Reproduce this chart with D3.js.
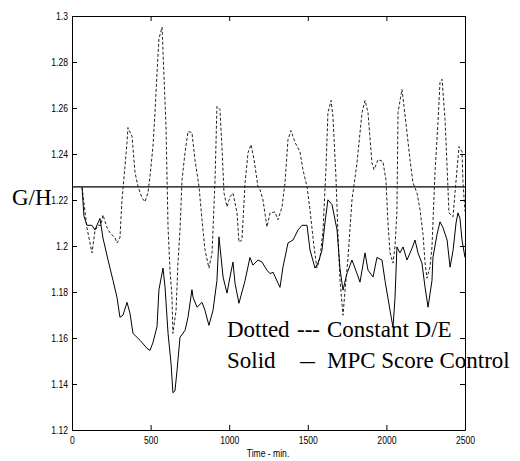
<!DOCTYPE html>
<html>
<head>
<meta charset="utf-8">
<script src="https://cdn.jsdelivr.net/npm/d3@7"></script>
<style>
  html, body { margin: 0; padding: 0; background: #fff; }
  .axis path, .axis line { stroke: #000; }
  .axis text { font-family: "Liberation Sans", Arial, sans-serif; font-size: 11px; fill: #000; }
</style>
</head>
<body>
<div id="chart"></div>
<script>
// 1. DATA
const dottedTime = [64, 95, 127, 146, 165, 184, 197, 223, 242, 274, 286, 305, 318, 331, 350, 356, 382, 401, 420, 445,
  464, 483, 496, 515, 528, 541, 553, 573, 579, 598, 611, 623, 636, 642, 662, 674, 687, 700, 719, 738,
  763, 782, 808, 827, 846, 871, 891, 910, 922, 941, 954, 967, 986, 1005, 1024, 1050, 1062, 1081, 1101, 1120,
  1139, 1158, 1183, 1196, 1215, 1240, 1260, 1291, 1310, 1336, 1355, 1374, 1393, 1419, 1450, 1469, 1495, 1514, 1539, 1558,
  1578, 1597, 1616, 1628, 1648, 1660, 1679, 1692, 1705, 1724, 1737, 1756, 1781, 1813, 1845, 1864, 1883, 1908, 1921, 1947,
  1978, 1997, 2010, 2023, 2042, 2055, 2067, 2074, 2099, 2112, 2131, 2150, 2169, 2195, 2214, 2233, 2246, 2258, 2277, 2290,
  2309, 2328, 2341, 2354, 2373, 2386, 2398, 2424, 2430, 2449, 2462, 2481, 2487, 2500];
const dottedValue = [1.2255, 1.208, 1.197, 1.2065, 1.209, 1.209, 1.2135, 1.208, 1.2057, 1.2035, 1.2013, 1.2035, 1.22, 1.23, 1.245, 1.2515, 1.2476, 1.2319, 1.2258, 1.221,
  1.2192, 1.2231, 1.2301, 1.2432, 1.258, 1.2755, 1.29, 1.2952, 1.2843, 1.252, 1.208, 1.19, 1.1777, 1.162, 1.172, 1.1926, 1.207, 1.2288, 1.2406, 1.2498,
  1.2493, 1.2376, 1.2258, 1.2114, 1.1983, 1.1904, 1.197, 1.2288, 1.2607, 1.2594, 1.2432, 1.223, 1.217, 1.2214, 1.223, 1.2144, 1.2017, 1.2026, 1.2275, 1.2406,
  1.2441, 1.2376, 1.2258, 1.2245, 1.22, 1.2083, 1.2144, 1.2148, 1.2114, 1.217, 1.2275, 1.2463, 1.2502, 1.245, 1.241, 1.2332, 1.2258, 1.2157, 1.2, 1.1904,
  1.195, 1.207, 1.2345, 1.258, 1.2633, 1.2563, 1.2301, 1.205, 1.185, 1.1699, 1.1808, 1.195, 1.22, 1.2362, 1.258, 1.2633, 1.258, 1.2362, 1.2332, 1.2376,
  1.2367, 1.2288, 1.21, 1.197, 1.1926, 1.2, 1.215, 1.258, 1.2681, 1.2607, 1.2493, 1.2376, 1.2275, 1.223, 1.2157, 1.205, 1.1926, 1.186, 1.1908, 1.1996,
  1.2319, 1.2537, 1.2712, 1.2725, 1.255, 1.2345, 1.2144, 1.2127, 1.2179, 1.2332, 1.2432, 1.241, 1.228, 1.215];

const solidTime = [64, 76, 95, 127, 146, 165, 178, 197, 229, 261, 286, 305, 324, 350, 369, 388, 433, 477, 496, 515,
  541, 553, 579, 592, 611, 630, 642, 655, 668, 687, 719, 738, 763, 770, 795, 827, 846, 871, 897, 922,
  935, 961, 986, 1005, 1024, 1037, 1062, 1101, 1132, 1151, 1183, 1209, 1240, 1260, 1279, 1323, 1342, 1374, 1406, 1438,
  1463, 1495, 1514, 1546, 1565, 1590, 1609, 1628, 1654, 1686, 1705, 1724, 1749, 1781, 1813, 1832, 1864, 1883, 1915, 1940,
  1972, 1991, 2023, 2042, 2055, 2067, 2086, 2106, 2131, 2163, 2182, 2201, 2226, 2246, 2265, 2290, 2296, 2322, 2341, 2360,
  2386, 2405, 2424, 2443, 2455, 2468, 2481, 2500];
const solidValue = [1.2255, 1.213, 1.209, 1.209, 1.207, 1.21, 1.212, 1.2035, 1.194, 1.185, 1.1777, 1.169, 1.1699, 1.1755, 1.1707, 1.162, 1.159, 1.1555, 1.1546, 1.158,
  1.165, 1.181, 1.1904, 1.182, 1.162, 1.149, 1.1362, 1.137, 1.1458, 1.1603, 1.1633, 1.169, 1.181, 1.1777, 1.1734, 1.1755, 1.172, 1.1655, 1.172, 1.185,
  1.204, 1.1865, 1.1795, 1.1865, 1.193, 1.1838, 1.1751, 1.185, 1.195, 1.1917, 1.1939, 1.193, 1.1895, 1.188, 1.1886, 1.182, 1.1908, 1.2013, 1.2026, 1.207,
  1.209, 1.209, 1.1983, 1.1904, 1.1926, 1.198, 1.21, 1.2201, 1.218, 1.207, 1.19, 1.1808, 1.188, 1.1939, 1.188, 1.1843, 1.197, 1.1895, 1.1865, 1.195,
  1.1939, 1.185, 1.172, 1.1646, 1.1777, 1.1996, 1.197, 1.1996, 1.1939, 1.199, 1.2026, 1.197, 1.1926, 1.182, 1.1734, 1.185, 1.195, 1.205, 1.2105, 1.208,
  1.2026, 1.1908, 1.198, 1.21, 1.2144, 1.212, 1.2026, 1.195];

const setpoint = [1.2257];
const xTicks = [0, 500, 1000, 1500, 2000, 2500];
const yTicks = [1.12, 1.14, 1.16, 1.18, 1.2, 1.22, 1.24, 1.26, 1.28, 1.3];

document.addEventListener("DOMContentLoaded", function() {

    // 2. SETUP
    const width = 520, height = 461;
    const margin = {top: 16, right: 55, bottom: 31, left: 72};
    const w = width - margin.left - margin.right;
    const h = height - margin.top - margin.bottom;
    const serif = "'Liberation Serif', 'Times New Roman', Times, 'DejaVu Serif', serif";

    const svg = d3.select("#chart").append("svg")
        .attr("width", width)
        .attr("height", height);

    const g = svg.append("g")
        .attr("transform", `translate(${margin.left},${margin.top})`);

    const x = d3.scaleLinear().domain([0, 2500]).range([0, w]);
    const y = d3.scaleLinear().domain([1.12, 1.3]).range([h, 0]);

    // 3. AXES (matlab style: ticks point inside, box all round)
    const squeeze = (sel, dx) => sel.selectAll("text")
        .attr("x", 0)
        .attr("transform", `translate(${dx},0) scale(0.78,1)`);

    g.append("g").attr("class", "axis")
        .call(d3.axisLeft(y).tickValues(yTicks).tickFormat(d => String(d))
            .tickSizeInner(-5).tickSizeOuter(0).tickPadding(4))
        .call(s => squeeze(s, -4));

    g.append("g").attr("class", "axis")
        .attr("transform", `translate(0,${h})`)
        .call(d3.axisBottom(x).tickValues(xTicks).tickFormat(d => String(d))
            .tickSizeInner(-5).tickSizeOuter(0).tickPadding(6))
        .call(s => squeeze(s, 0));

    g.append("g").attr("class", "axis")
        .call(d3.axisTop(x).tickValues(xTicks).tickFormat("")
            .tickSizeInner(-5).tickSizeOuter(0));

    g.append("g").attr("class", "axis")
        .attr("transform", `translate(${w},0)`)
        .call(d3.axisRight(y).tickValues(yTicks).tickFormat("")
            .tickSizeInner(-5).tickSizeOuter(0));

    // 4. LINES
    const line = d3.line()
        .x(d => x(d[0]))
        .y(d => y(d[1]));

    g.append("line")
        .attr("x1", 0).attr("x2", w)
        .attr("y1", y(setpoint[0])).attr("y2", y(setpoint[0]))
        .attr("stroke", "#000")
        .attr("stroke-width", 1.2);

    g.append("path")
        .datum(d3.zip(dottedTime, dottedValue))
        .attr("d", line)
        .attr("fill", "none")
        .attr("stroke", "#222")
        .attr("stroke-width", 1)
        .attr("stroke-dasharray", "3,2");

    g.append("path")
        .datum(d3.zip(solidTime, solidValue))
        .attr("d", line)
        .attr("fill", "none")
        .attr("stroke", "#000")
        .attr("stroke-width", 1);

    // 5. LABELS
    svg.append("text")
        .attr("x", 268).attr("y", 457)
        .attr("text-anchor", "middle")
        .attr("transform", "translate(268,0) scale(0.78,1) translate(-268,0)")
        .style("font-family", "'Liberation Sans', Arial, sans-serif")
        .style("font-size", "11px")
        .text("Time - min.");

    const big = (px, py, txt) => svg.append("text")
        .attr("x", px).attr("y", py)
        .style("font-family", serif)
        .style("font-size", "23px")
        .attr("fill", "#000")
        .text(txt);

    big(12, 205, "G/H");

    // legend written as text inside the plot
    big(227, 337, "Dotted");
    big(297, 337, "---");
    big(327, 337, "Constant D/E");
    big(227, 368, "Solid");
    big(300, 368, "—").attr("textLength", 15).attr("lengthAdjust", "spacingAndGlyphs");
    big(327, 368, "MPC Score Control");
});
</script>
</body>
</html>
